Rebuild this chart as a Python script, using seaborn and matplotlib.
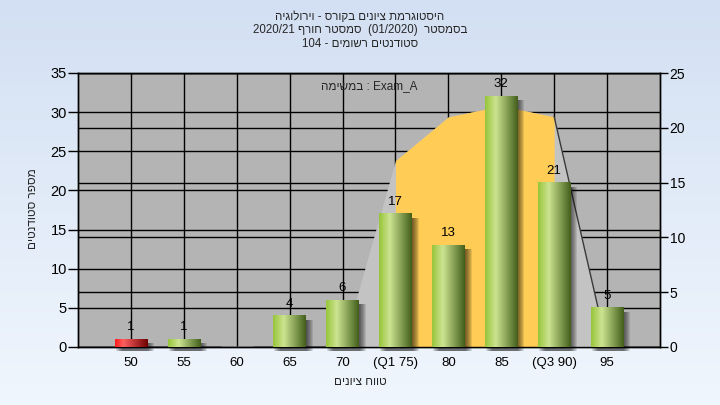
import re
import numpy as np
import pandas as pd
import matplotlib
matplotlib.use("Agg")
import matplotlib.pyplot as plt
import matplotlib.transforms as mtransforms
from matplotlib.patches import Rectangle
import seaborn as sns


# -------------------------------
# Data
# -------------------------------

grades = ["50", "55", "60", "65", "70", "(Q1 75)", "80", "85", "(Q3 90)", "95"]
counts = [1, 1, 0, 4, 6, 17, 13, 32, 21, 5]
bar_kind = ["fail", "pass", "pass", "pass", "pass", "pass", "pass", "pass", "pass", "pass"]

curve_grades = ["70", "(Q1 75)", "80", "85", "(Q3 90)", "95"]
curve_values = [0, 17, 21, 22, 21, 0]
q1_label = "(Q1 75)"
q3_label = "(Q3 90)"

left_ticks = [0, 5, 10, 15, 20, 25, 30, 35]
right_ticks = [0, 5, 10, 15, 20, 25]

title_lines = [
    "היסטוגרמת ציונים בקורס - וירולוגיה",
    "בסמסטר  (01/2020)  סמסטר חורף 2020/21",
    "סטודנטים רשומים - 104",
]
task_word = "במשימה"
task_name = "Exam_A"
y_title = "מספר סטודנטים"
x_title = "טווח ציונים"


def visual(s):
    # matplotlib has no bidi: turn a right-to-left line into drawing order
    r = s[::-1]
    r = re.sub(r"[0-9A-Za-z_][0-9A-Za-z_/.:]*[0-9A-Za-z_]|[0-9A-Za-z_]",
               lambda m: m.group(0)[::-1], r)
    return r.translate(str.maketrans("()", ")("))


def gradient(stops, n=256):
    pos = [p for p, _ in stops]
    cols = np.array([c for _, c in stops], dtype=float) / 255
    t = np.linspace(0, 1, n)
    rgb = np.stack([np.interp(t, pos, cols[:, k]) for k in range(3)], axis=-1)
    return rgb[np.newaxis, :, :]


bar_fills = {
    "pass": gradient([(0, (150, 196, 58)), (0.33, (204, 228, 145)), (1, (66, 94, 26))]),
    "fail": gradient([(0, (255, 25, 25)), (0.25, (255, 95, 95)), (1, (110, 0, 0))]),
}

df = pd.DataFrame({"grade": grades, "count": counts, "kind": bar_kind})

sns.set_style("white")
plt.rcParams["font.family"] = ["Liberation Sans", "DejaVu Sans"]

fig = plt.figure(figsize=(7.2, 4.05), dpi=100)

# background gradient of the whole figure
bg = fig.add_axes([0, 0, 1, 1], zorder=-5)
bg.imshow(np.linspace(0, 1, 100)[:, None], cmap=matplotlib.colors.LinearSegmentedColormap.from_list(
    "bg", ["#d3e0f3", "#f0f6fd"]), aspect="auto", extent=[0, 1, 0, 1])
bg.axis("off")

ax = fig.add_axes([78 / 720, 1 - 347 / 405, 582 / 720, 274 / 405])
ax.set_facecolor("#b4b4b4")

ax2 = ax.twinx()
ax3 = ax.twinx()

# -------------------------------
# bars (top layer)
# -------------------------------

sns.barplot(
    data=df,
    x="grade",
    y="count",
    hue="kind",
    palette={"pass": "#8fbf40", "fail": "#e01010"},
    dodge=False,
    width=0.61,
    legend=False,
    ax=ax3
)

kind_of = dict(zip(grades, bar_kind))
for bar in list(ax3.patches):
    h = bar.get_height()
    if not np.isfinite(h) or h <= 0:
        continue
    x0, w = bar.get_x(), bar.get_width()
    idx = int(round(x0 + w / 2))
    fill = bar_fills[kind_of[grades[idx]]]
    for k in range(1, 8):
        tr = mtransforms.offset_copy(ax3.transData, fig=fig, x=k, y=-4, units="dots")
        ax3.add_patch(Rectangle((x0, 0), w, h, transform=tr, facecolor="black",
                                alpha=0.1, edgecolor="none", zorder=2, clip_on=False))
    ax3.imshow(fill, extent=[x0, x0 + w, 0, h], aspect="auto", zorder=3,
               interpolation="bilinear")
    bar.set_visible(False)

for i, v in enumerate(counts):
    if v > 0:
        ax3.annotate(str(v), (i, v), xytext=(0, 12), textcoords="offset pixels",
                     ha="center", va="center", fontsize=9.5, color="black", zorder=4)

ax3.set_ylim(0, 35)
ax3.axis("off")

# -------------------------------
# curve area (right axis, middle layer)
# -------------------------------

cx = [grades.index(g) for g in curve_grades]
ax2.fill_between(cx, curve_values, color="#c3c3c3", lw=0, zorder=1)
iq1, iq3 = curve_grades.index(q1_label), curve_grades.index(q3_label)
ax2.fill_between(cx[iq1:iq3 + 1], curve_values[iq1:iq3 + 1], color="#ffcc55", lw=0, zorder=1.1)
ax2.plot(cx[iq3:], curve_values[iq3:], color="#3a3a3a", lw=1, zorder=1.2)
ax2.set_ylim(0, 25)
ax2.set_yticks(right_ticks)
ax2.set_axisbelow(True)
ax2.grid(axis="y", color="black", lw=1)
ax2.patch.set_visible(False)
ax2.tick_params(axis="y", length=6, width=1, pad=1, labelsize=10, colors="black")

# -------------------------------
# base axes
# -------------------------------

ax.set_ylim(0, 35)
ax.set_yticks(left_ticks)
ax.set_xlim(-1, len(grades))
ax.set_xticks(range(len(grades)), grades)
ax.grid(True, color="black", lw=1)
ax.tick_params(axis="y", length=7, width=1, pad=1, labelsize=10.5, colors="black")
ax.tick_params(axis="x", length=0, pad=7, labelsize=9.5, colors="black")
ax3.set_xlim(-1, len(grades))

for a in (ax, ax2):
    for s in a.spines.values():
        s.set_color("black")
        s.set_linewidth(1)

fig.text(33 / 720, 1 - 209 / 405, visual(y_title), rotation=90, ha="center",
         va="center", fontsize=8.5)
ax.set_xlabel(visual(x_title), fontsize=8.5)
ax.xaxis.set_label_coords(0.4845, -0.105)

ax.text(0.5, 0.952, task_word[::-1] + " : " + task_name, transform=ax.transAxes,
        ha="center", va="center", fontsize=8.5, zorder=5)

fig.text(0.5, 1 - 11 / 405, "\n".join(visual(t) for t in title_lines), ha="center",
         va="top", fontsize=8.3, linespacing=1.15, multialignment="center")

fig.savefig("out.png", dpi=100)
plt.close(fig)
